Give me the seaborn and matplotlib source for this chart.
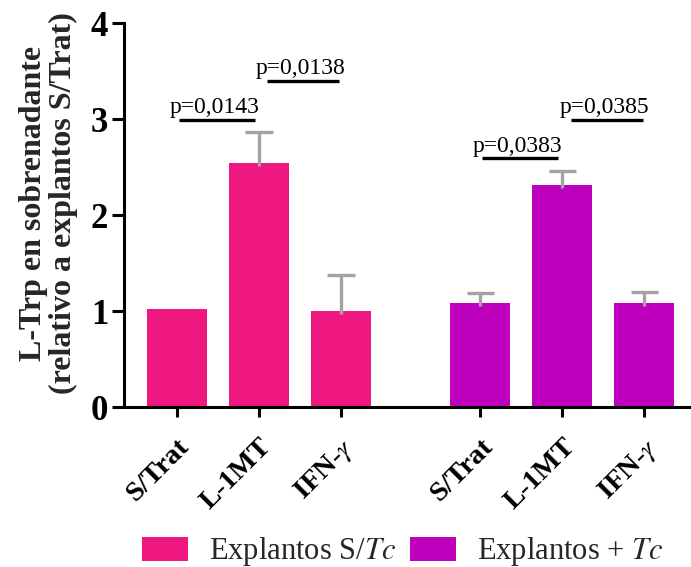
import matplotlib
matplotlib.use("Agg")
import matplotlib.pyplot as plt
import seaborn as sns
import pandas as pd
import numpy as np
from matplotlib.patches import Patch

# ---- data ----
groups = ["Explantos S/$\\mathit{Tc}$", "Explantos + $\\mathit{Tc}$"]
treatments = ["S/Trat", "L-1MT", "IFN-$\\gamma$"]
means_sin_tc = [1.02, 2.54, 1.00]
sem_sin_tc = [0.0, 0.32, 0.37]
means_con_tc = [1.08, 2.31, 1.08]
sem_con_tc = [0.11, 0.15, 0.115]
colors = ["#EF1780", "#BC00BC"]
# significance annotations: (bar index a, bar index b, y level, label)
sig_pairs = [(0, 1, 2.99, "p=0,0143"), (1, 2, 3.40, "p=0,0138"),
             (3, 4, 2.59, "p=0,0383"), (4, 5, 2.99, "p=0,0385")]

sns.set_theme(style="ticks")
plt.rcParams["font.family"] = ["Liberation Serif", "DejaVu Serif"]
plt.rcParams["mathtext.fontset"] = "stix"

group_gap = 0.7
pos, vals, errs, grp = [], [], [], []
for gi, (m, e) in enumerate([(means_sin_tc, sem_sin_tc), (means_con_tc, sem_con_tc)]):
    for ti in range(len(treatments)):
        pos.append(gi * (len(treatments) + group_gap) + ti)
        vals.append(m[ti]); errs.append(e[ti]); grp.append(groups[gi])
df = pd.DataFrame({"pos": pos, "val": vals, "err": errs, "grupo": grp})

fig = plt.figure(figsize=(6.91, 5.67), dpi=100)
ax = fig.add_axes([124/691, 1 - 407/567, (690-124)/691, (407-23)/567])

sns.barplot(data=df, x="pos", y="val", hue="grupo", palette=colors,
            native_scale=True, dodge=False, width=0.73, errorbar=None,
            legend=False, saturation=1, ax=ax, linewidth=0, zorder=2)

# upper-only error bars
eb = df[df["err"] > 0]
cap_half = 0.165
ax.vlines(eb["pos"], eb["val"] - 0.03, eb["val"] + eb["err"], color="#A3A3A3",
          lw=2.4, zorder=3)
ax.hlines(eb["val"] + eb["err"], eb["pos"] - cap_half, eb["pos"] + cap_half,
          color="#A3A3A3", lw=2.4, zorder=3)

for a, b, y, lab in sig_pairs:
    xa, xb = pos[a], pos[b]
    x1 = xa + (0.02 if a % 3 == 0 else 0.1)
    x2 = xb - 0.05 + (0.03 if b % 3 == 2 else 0)
    ax.plot([x1, x2], [y, y], color="black", lw=2.4, solid_capstyle="butt", zorder=4)
    ax.text((x1 + x2) / 2 - 0.03, y + 0.07, lab, ha="center", va="baseline",
            fontsize=17, color="black", zorder=5)

ax.set_xlim(-0.646, 6.256)
ax.set_ylim(0, 4)
ax.set_yticks([0, 1, 2, 3, 4])
ax.set_yticklabels(["0", "1", "2", "3", "4"], fontsize=25, fontweight="bold")
ax.set_xticks(pos)
ax.set_xticklabels(treatments * 2, fontsize=20.5, fontweight="bold",
                   rotation=45, ha="right", va="top", rotation_mode="anchor")
ax.tick_params(axis="y", length=8.5, width=2.2, pad=3, colors="black")
ax.tick_params(axis="x", length=7.5, width=2.2, pad=12, colors="black")
for s in ["left", "bottom"]:
    ax.spines[s].set_linewidth(2.2)
    ax.spines[s].set_color("black")
for s in ["top", "right"]:
    ax.spines[s].set_visible(False)
ax.set_xlabel("")
ax.set_ylabel("L-Trp en sobrenadante\n(relativo a explantos S/Trat)",
              fontsize=23, fontweight="bold", linespacing=1.03)
ax.yaxis.set_label_coords(-0.082, 0.53)

handles = [Patch(facecolor=c, edgecolor="none") for c in colors]
fig.legend(handles, groups, loc="center left", bbox_to_anchor=(142/691, 1 - 552/567),
           ncol=2, frameon=False, fontsize=22, borderpad=0, borderaxespad=0,
           handlelength=1.5, handleheight=0.8, handletextpad=0.7, columnspacing=0.45)

fig.savefig("out.png", dpi=100)
